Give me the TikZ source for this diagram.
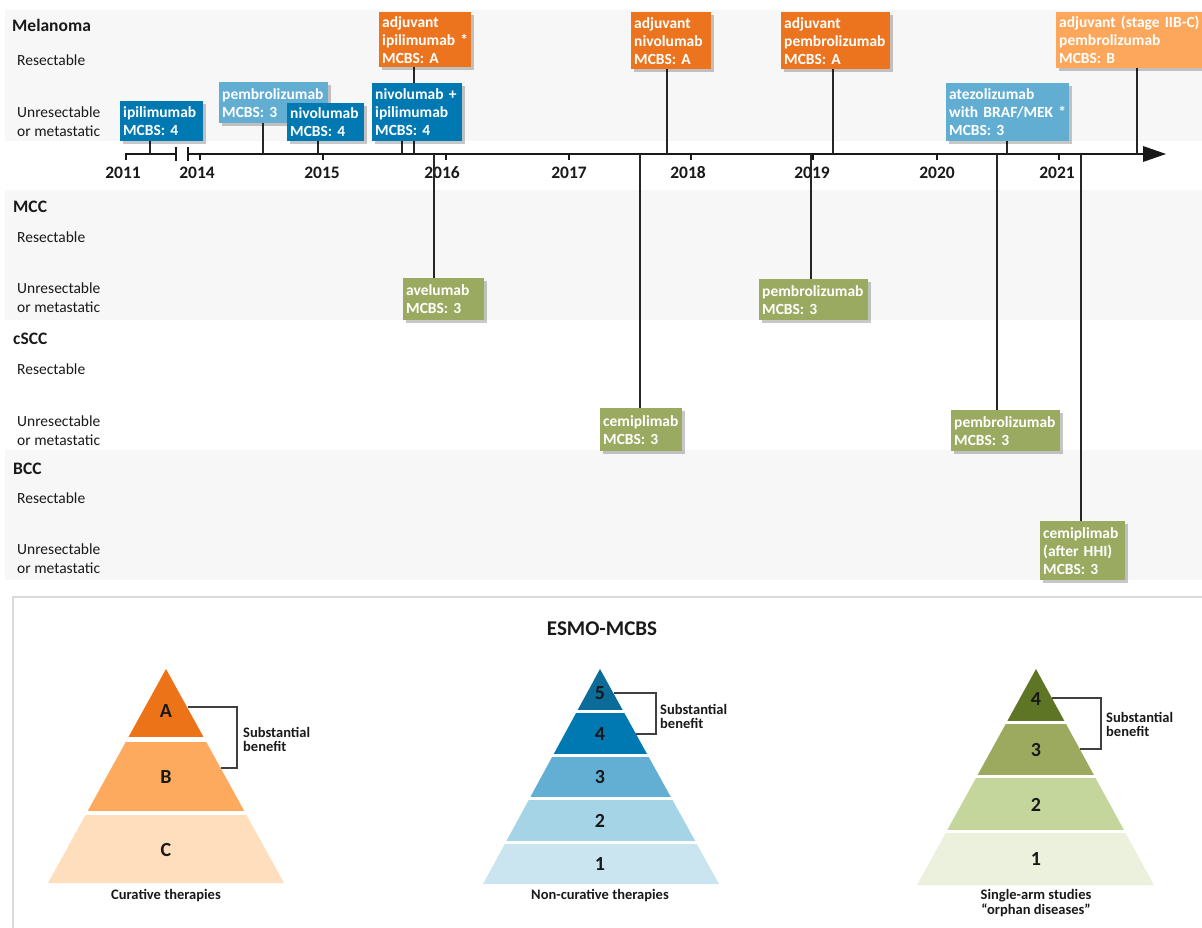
\documentclass[tikz,border=0pt]{standalone}
\usepackage{fontspec}
\setmainfont{Carlito}
\usetikzlibrary{shadows}
\definecolor{dblue}{RGB}{0,121,178}
\definecolor{lblue}{RGB}{98,174,211}
\definecolor{orng}{RGB}{236,116,30}
\definecolor{lorng}{RGB}{252,167,91}
\definecolor{grn}{RGB}{154,170,96}
\definecolor{bandc}{RGB}{247,247,247}
\definecolor{frame}{RGB}{218,218,218}
\definecolor{txt}{RGB}{25,25,25}
\definecolor{pA}{RGB}{236,115,24}
\definecolor{pB}{RGB}{253,170,94}
\definecolor{pC}{RGB}{254,222,188}
\definecolor{bV}{RGB}{11,108,154}
\definecolor{bIV}{RGB}{0,121,178}
\definecolor{bIII}{RGB}{98,175,211}
\definecolor{bII}{RGB}{166,212,231}
\definecolor{bI}{RGB}{202,229,240}
\definecolor{gIV}{RGB}{94,117,37}
\definecolor{gIII}{RGB}{155,170,95}
\definecolor{gII}{RGB}{196,214,155}
\definecolor{gI}{RGB}{235,241,220}
\tikzset{
  bx/.style={anchor=north west, inner xsep=3pt, inner ysep=0pt, align=left, text=white,
    font=\bfseries\fontsize{15.5}{18}\selectfont,
    drop shadow={shadow xshift=2.5pt, shadow yshift=-3pt, opacity=0.22, fill=black}},
  lab/.style={anchor=west, inner sep=0pt, align=left, text=txt, font=\fontsize{15.5}{19}\selectfont},
  head/.style={anchor=west, inner sep=0pt, text=txt, font=\bfseries\fontsize{17.5}{20}\selectfont},
  yr/.style={inner sep=0pt, text=txt, font=\bfseries\fontsize{17.5}{20}\selectfont},
  conn/.style={line width=1.4pt, draw=black!85},
  axisln/.style={line width=2pt, draw=black!90},
  pnum/.style={inner sep=0pt, text=txt, font=\bfseries\fontsize{20}{22}\selectfont},
  brk/.style={line width=1.3pt, draw=black!75},
  small/.style={inner sep=0pt, text=txt, align=left, font=\bfseries\fontsize{14.5}{14}\selectfont},
  capt/.style={inner sep=0pt, text=txt, align=center, font=\bfseries\fontsize{14.5}{15}\selectfont},
}
\begin{document}
\begin{tikzpicture}[x=1pt,y=-1pt]
\useasboundingbox (0,0) rectangle (1202,928);
% bands
\fill[bandc] (5,10) rectangle (1202,141);
\fill[bandc] (5,190) rectangle (1202,320);
\fill[bandc] (5,450) rectangle (1202,580);
% row labels
\node[head] (mel) at (12,25) {Melanoma};
\node[lab] (melR) at (17,60) {Resectable};
\node[lab] (melU) at (17,121.5) {Unresectable\\or metastatic};
\node[head] (mcc) at (13,207) {MCC};
\node[lab] (mccR) at (17,237) {Resectable};
\node[lab] (mccU) at (17,298) {Unresectable\\or metastatic};
\node[head] (scc) at (13,339) {cSCC};
\node[lab] (sccR) at (17,369) {Resectable};
\node[lab] (sccU) at (17,430.5) {Unresectable\\or metastatic};
\node[head] (bcc) at (13,469) {BCC};
\node[lab] (bccR) at (17,498) {Resectable};
\node[lab] (bccU) at (17,558.5) {Unresectable\\or metastatic};
% axis
\draw[axisln] (126,160) -- (126,154) -- (176,154);
\draw[axisln] (176,147) -- (176,161);
\draw[axisln] (188,147) -- (188,161);
\draw[axisln] (188,154) -- (1146,154);
\fill[black!90] (1143,146) -- (1166,154) -- (1143,162) -- cycle;
\foreach \t in {200,323,446,569,691,813,937,1059} \draw[axisln] (\t,154) -- (\t,160);
\node[yr] (y11) at (123,173) {2011};
\node[yr] (y14) at (197,173) {2014};
\node[yr] (y15) at (322,173) {2015};
\node[yr] (y16) at (442,173) {2016};
\node[yr] (y17) at (569,173) {2017};
\node[yr] (y18) at (688,173) {2018};
\node[yr] (y19) at (812,173) {2019};
\node[yr] (y20) at (937,173) {2020};
\node[yr] (y21) at (1057,173) {2021};
% connector points on the axis
\coordinate (c1) at (150,154);
\coordinate (c2) at (263,154);
\coordinate (c3) at (318,154);
\coordinate (c4) at (402,154);
\coordinate (c5) at (414,154);
\coordinate (c6) at (434,154);
\coordinate (c7) at (640,154);
\coordinate (c8) at (667,154);
\coordinate (c9) at (811,154);
\coordinate (c10) at (833,154);
\coordinate (c11) at (997,154);
\coordinate (c12) at (1007,154);
\coordinate (c13) at (1081,154);
\coordinate (c14) at (1137,154);
\node[bx, fill=lblue, text width=103pt, minimum height=41pt] (pem1) at (219,82) {pembrolizumab\\MCBS:~3};
% connectors (drawn behind the boxes that follow)
\draw[conn] (pem1.south -| c2) -- (c2);
\draw[conn] (c5 |- 0,67) -- (c5);
\draw[conn] (c1 |- 0,141) -- (c1);
\draw[conn] (c3 |- 0,141) -- (c3);
\draw[conn] (c4 |- 0,141) -- (c4);
\draw[conn] (c8 |- 0,69) -- (c8);
\draw[conn] (c10 |- 0,69) -- (c10);
\draw[conn] (c12 |- 0,141) -- (c12);
\draw[conn] (c14 |- 0,68) -- (c14);
\draw[conn] (c6) -- (c6 |- 0,278);
\draw[conn] (c9) -- (c9 |- 0,279);
\draw[conn] (c7) -- (c7 |- 0,408);
\draw[conn] (c11) -- (c11 |- 0,410);
\draw[conn] (c13) -- (c13 |- 0,521);
% melanoma boxes
\node[bx, fill=dblue, text width=77pt, minimum height=40pt] (ipi) at (120,101) {ipilimumab\\MCBS:~4};
\node[bx, fill=dblue, text width=71pt, minimum height=38pt] (nivo) at (287,103) {nivolumab\\MCBS:~4};
\node[bx, fill=dblue, text width=84pt, minimum height=58pt] (nivoipi) at (372,83) {nivolumab~+\\ipilimumab\\MCBS:~4};
\node[bx, fill=orng, text width=86pt, minimum height=55pt] (adjipi) at (379,12) {adjuvant\\ipilimumab~*\\MCBS:~A};
\node[bx, fill=orng, text width=74pt, minimum height=57pt] (adjnivo) at (631,12) {adjuvant\\nivolumab\\MCBS:~A};
\node[bx, fill=orng, text width=103pt, minimum height=57pt] (adjpem) at (781,12) {adjuvant\\pembrolizumab\\MCBS:~A};
\node[bx, fill=lblue, text width=117pt, minimum height=58pt] (atezo) at (946,83) {atezolizumab\\with~BRAF/MEK~*\\MCBS:~3};
\node[bx, fill=lorng, text width=150pt, minimum height=56pt] (adjst) at (1056,12) {adjuvant~(stage~IIB-C)\\pembrolizumab\\MCBS:~B};
% other boxes
\node[bx, fill=grn, text width=75pt, minimum height=42pt] (ave) at (403,278) {avelumab\\MCBS:~3};
\node[bx, fill=grn, text width=103pt, minimum height=41pt] (pemmcc) at (759,279) {pembrolizumab\\MCBS:~3};
\node[bx, fill=grn, text width=76pt, minimum height=43pt] (cemi) at (600,408) {cemiplimab\\MCBS:~3};
\node[bx, fill=grn, text width=103pt, minimum height=41pt] (pemscc) at (951,410) {pembrolizumab\\MCBS:~3};
\node[bx, fill=grn, text width=79pt, minimum height=59pt] (cemibcc) at (1040,521) {cemiplimab\\(after~HHI)\\MCBS:~3};
% lower panel frame
\draw[frame, line width=1.5pt] (13,930) -- (13,597) -- (1204,597);
\node[inner sep=0pt, text=txt, font=\bfseries\fontsize{21}{24}\selectfont] (esmo) at (602,629) {ESMO-MCBS};
% pyramid 1
\begin{scope}
\clip (166,669) -- (284,883) -- (48,883) -- cycle;
\fill[pA] (40,660) rectangle (300,737);
\fill[pB] (40,742) rectangle (300,811);
\fill[pC] (40,815) rectangle (300,890);
\end{scope}
\node[pnum] (la) at (166,711) {A};
\node[pnum] (lb) at (166,777) {B};
\node[pnum] (lc) at (166,850) {C};
\draw[brk] (188,707) -- (237,707) -- (237,768) -- (221,768);
\node[small, anchor=west] (sb1) at (243,739.5) {Substantial\\benefit};
\node[capt] (cap1) at (166,896) {Curative therapies};
% pyramid 2
\begin{scope}
\clip (600,669) -- (719,884) -- (483,884) -- cycle;
\fill[bV] (470,660) rectangle (730,710);
\fill[bIV] (470,713) rectangle (730,754);
\fill[bIII] (470,757) rectangle (730,797);
\fill[bII] (470,800) rectangle (730,841);
\fill[bI] (470,844) rectangle (730,890);
\end{scope}
\node[pnum] (n5) at (600,693) {5};
\node[pnum] (n4) at (600,734) {4};
\node[pnum] (n3) at (600,777) {3};
\node[pnum] (n2) at (600,821) {2};
\node[pnum] (n1) at (600,864) {1};
\draw[brk] (614,693) -- (656,693) -- (656,734) -- (636,734);
\node[small, anchor=west] (sb2) at (660,716) {Substantial\\benefit};
\node[capt] (cap2) at (600,896) {Non-curative therapies};
% pyramid 3
\begin{scope}
\clip (1036,669) -- (1154,885) -- (917,885) -- cycle;
\fill[gIV] (900,660) rectangle (1170,721);
\fill[gIII] (900,724) rectangle (1170,775);
\fill[gII] (900,778) rectangle (1170,830);
\fill[gI] (900,833) rectangle (1170,890);
\end{scope}
\node[pnum] (g4) at (1036,699) {4};
\node[pnum] (g3) at (1036,750) {3};
\node[pnum] (g2) at (1036,805) {2};
\node[pnum] (g1) at (1036,859) {1};
\draw[brk] (1052,698) -- (1101,698) -- (1101,749) -- (1080,749);
\node[small, anchor=west] (sb3) at (1106,724.5) {Substantial\\benefit};
\node[capt] (cap3) at (1036,903.5) {Single-arm studies\\“orphan diseases”};
\end{tikzpicture}
\end{document}
